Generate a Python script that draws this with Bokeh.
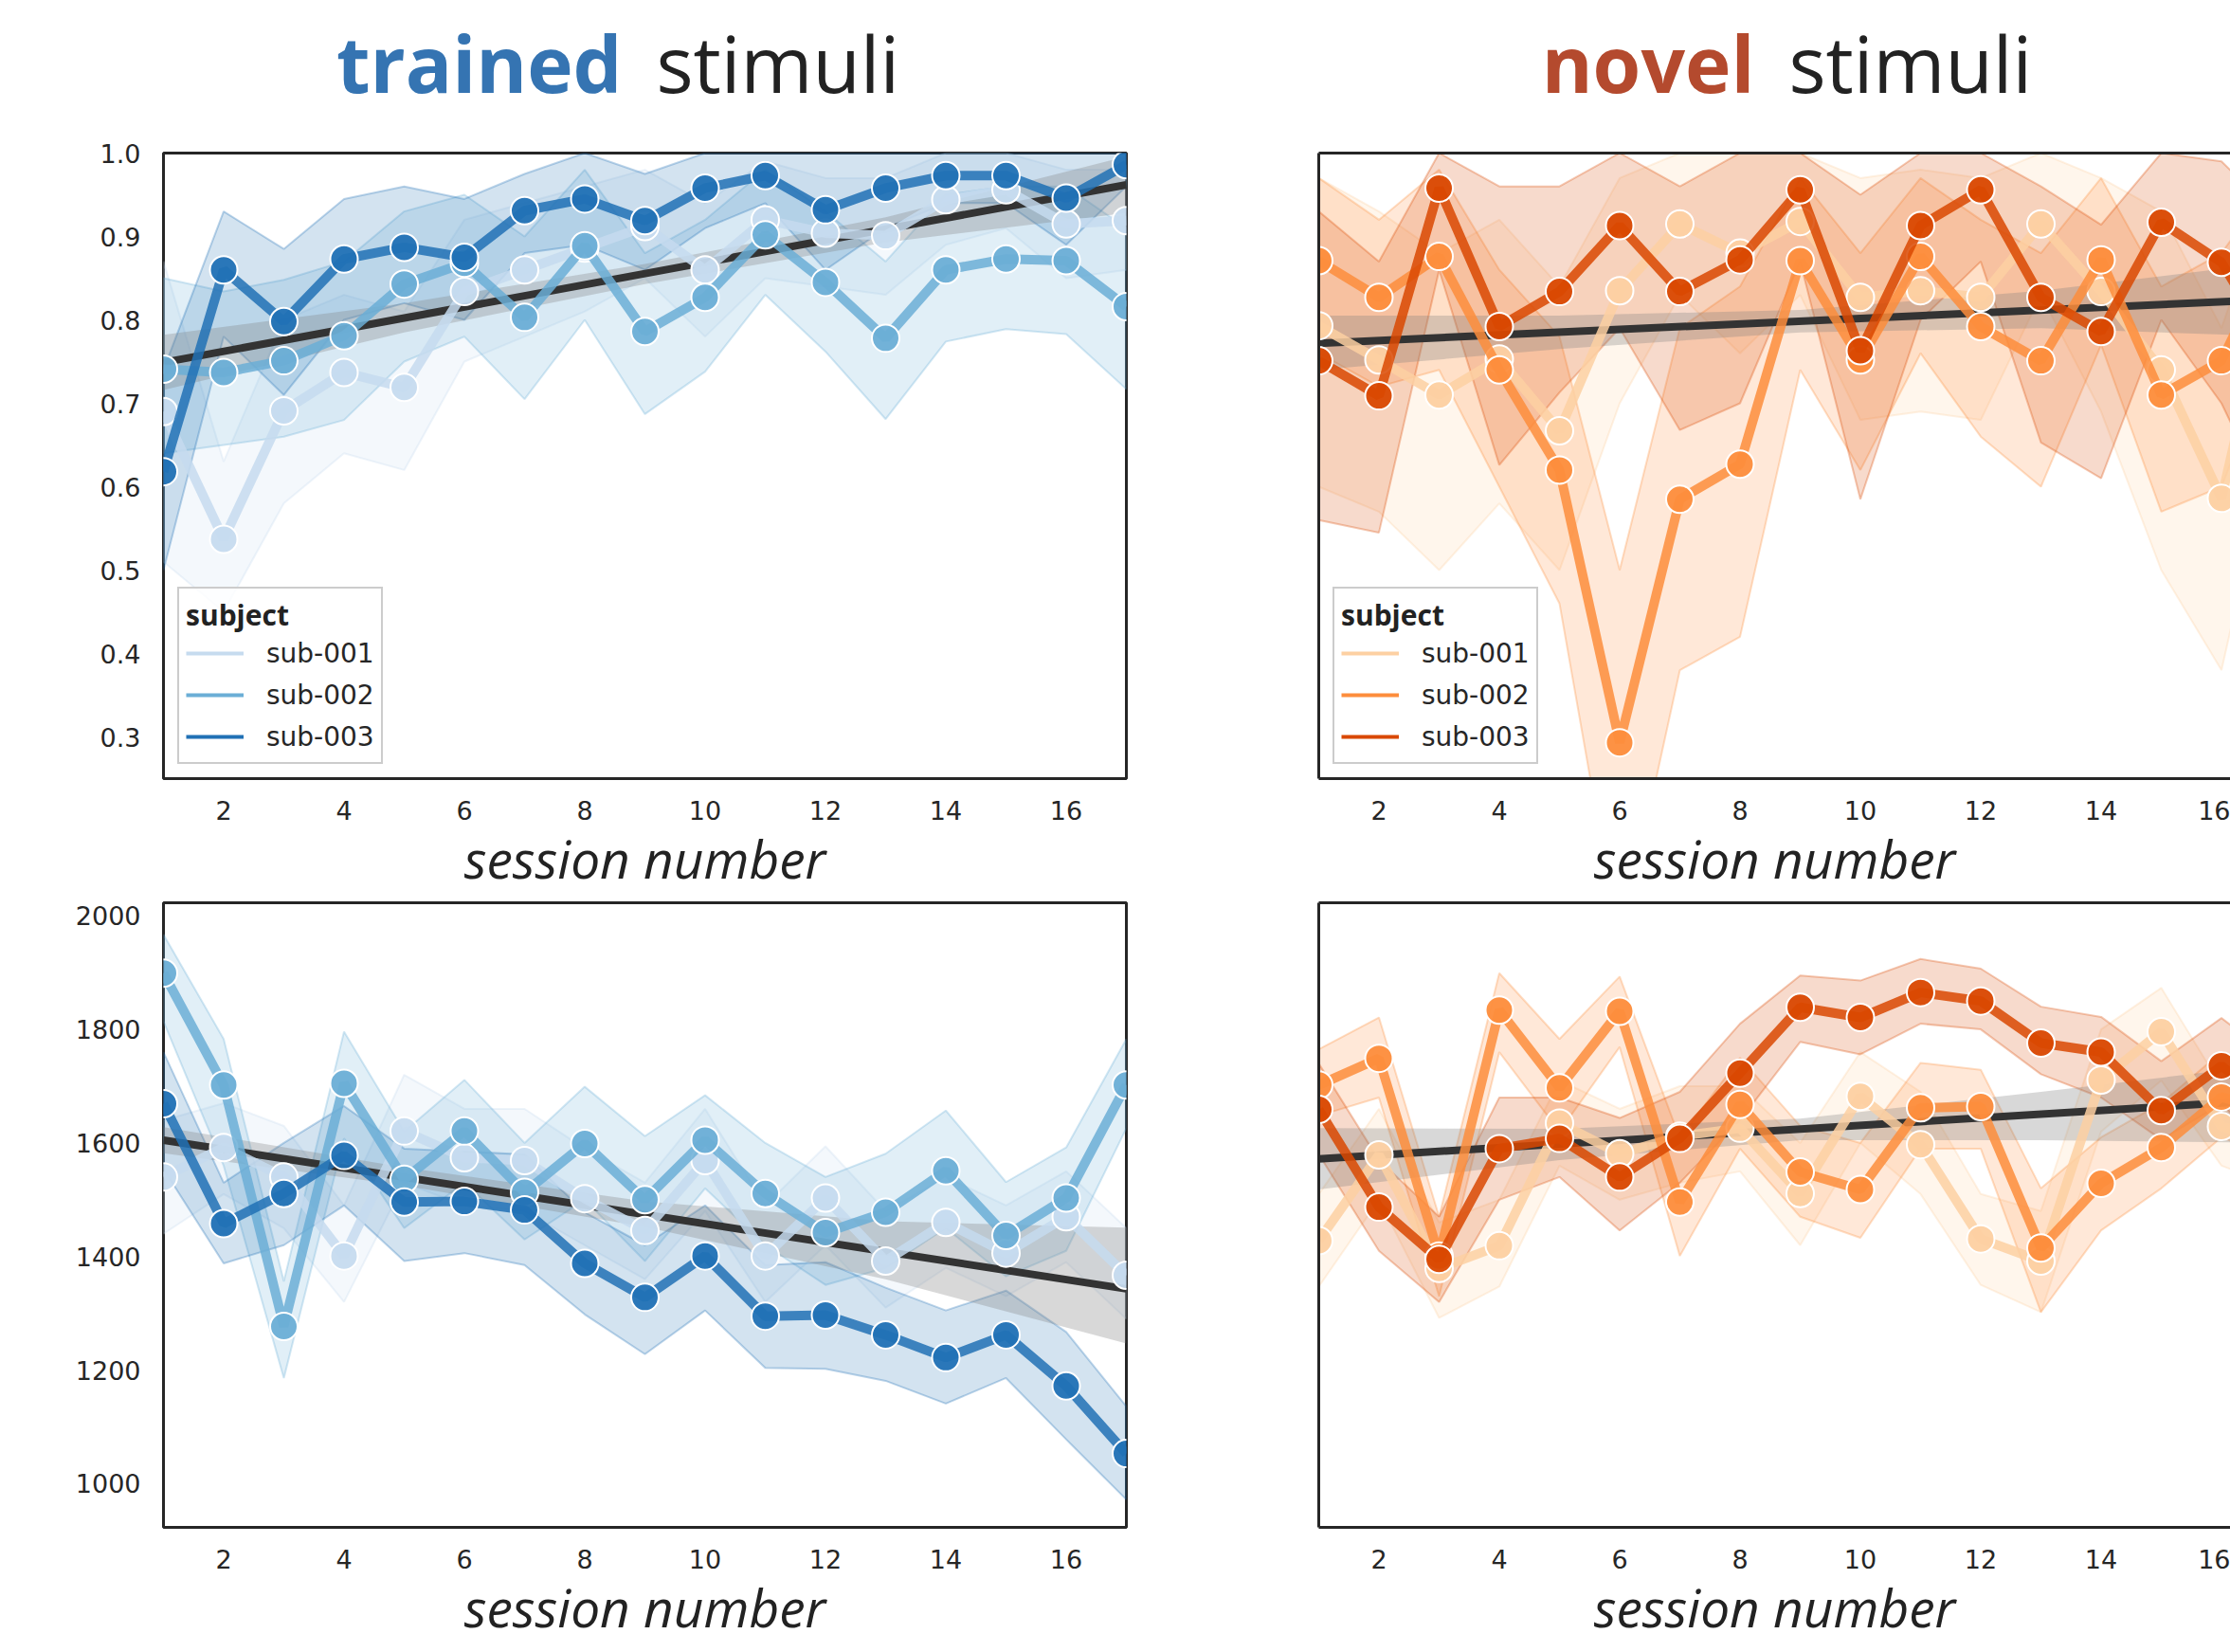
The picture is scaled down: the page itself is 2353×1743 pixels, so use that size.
from bokeh.plotting import figure
from bokeh.models import Range1d, FixedTicker, Legend, LegendItem, LinearAxis, PrintfTickFormatter
from bokeh.layouts import row, column
from bokeh.embed import file_html
from bokeh.resources import INLINE
from bokeh.core.properties import value

# ---------------- data ----------------
sessions = list(range(1, 18))
subjects = ["sub-001", "sub-002", "sub-003"]
blues = ["#c6dbef", "#6baed6", "#2171b5"]
oranges = ["#fdd0a2", "#fd8d3c", "#d94801"]

x_ticks = [2, 4, 6, 8, 10, 12, 14, 16]
acc_ticks = [0.3, 0.4, 0.5, 0.6, 0.7, 0.8, 0.9, 1.0]
rt_ticks = [1000, 1200, 1400, 1600, 1800, 2000]

# trained stimuli - accuracy
tr_acc_001 = [0.690, 0.537, 0.691, 0.737, 0.719, 0.834, 0.860, 0.886, 0.912, 0.860, 0.920, 0.904, 0.901, 0.944, 0.956, 0.915, 0.919]
tr_acc_001_lo = [0.51, 0.45, 0.58, 0.64, 0.62, 0.75, 0.78, 0.81, 0.85, 0.78, 0.85, 0.84, 0.83, 0.89, 0.91, 0.85, 0.86]
tr_acc_001_hi = [0.87, 0.63, 0.80, 0.83, 0.81, 0.92, 0.94, 0.96, 0.98, 0.94, 0.99, 0.97, 0.97, 1.0, 1.0, 0.98, 0.98]
tr_acc_002 = [0.741, 0.737, 0.751, 0.781, 0.843, 0.868, 0.803, 0.889, 0.786, 0.827, 0.902, 0.845, 0.778, 0.860, 0.873, 0.871, 0.816]
tr_acc_002_lo = [0.64, 0.65, 0.66, 0.68, 0.75, 0.78, 0.705, 0.80, 0.687, 0.738, 0.83, 0.762, 0.681, 0.774, 0.789, 0.783, 0.717]
tr_acc_002_hi = [0.85, 0.834, 0.848, 0.87, 0.93, 0.95, 0.90, 0.98, 0.88, 0.92, 0.98, 0.93, 0.87, 0.95, 0.96, 0.96, 0.91]
tr_acc_003 = [0.618, 0.860, 0.798, 0.873, 0.887, 0.875, 0.931, 0.945, 0.919, 0.958, 0.973, 0.932, 0.958, 0.973, 0.973, 0.946, 0.986]
tr_acc_003_lo = [0.50, 0.78, 0.71, 0.80, 0.82, 0.80, 0.88, 0.89, 0.86, 0.91, 0.94, 0.86, 0.91, 0.94, 0.94, 0.89, 0.96]
tr_acc_003_hi = [0.74, 0.93, 0.885, 0.945, 0.96, 0.945, 0.975, 1.0, 0.975, 1.0, 1.0, 1.0, 1.0, 1.0, 1.0, 1.0, 1.0]

# novel stimuli - accuracy
nv_acc_001 = [0.793, 0.752, 0.710, 0.753, 0.667, 0.835, 0.915, 0.880, 0.918, 0.827, 0.835, 0.827, 0.915, 0.834, 0.740, 0.586, 0.90]
nv_acc_001_lo = [0.60, 0.57, 0.50, 0.58, 0.50, 0.70, 0.83, 0.76, 0.83, 0.68, 0.69, 0.68, 0.83, 0.69, 0.50, 0.38, 0.70]
nv_acc_001_hi = [0.97, 0.93, 0.88, 0.92, 0.84, 0.97, 1.0, 1.0, 1.0, 0.97, 0.98, 0.97, 1.0, 0.97, 0.93, 0.79, 1.0]
nv_acc_002 = [0.871, 0.827, 0.876, 0.740, 0.620, 0.293, 0.585, 0.627, 0.871, 0.752, 0.876, 0.792, 0.751, 0.872, 0.710, 0.751, 0.90]
nv_acc_002_lo = [0.76, 0.72, 0.74, 0.60, 0.46, 0.05, 0.38, 0.42, 0.74, 0.62, 0.76, 0.66, 0.60, 0.77, 0.57, 0.60, 0.78]
nv_acc_002_hi = [0.97, 0.92, 0.98, 0.86, 0.78, 0.50, 0.79, 0.84, 0.97, 0.88, 0.97, 0.92, 0.88, 0.97, 0.84, 0.88, 0.98]
nv_acc_003 = [0.751, 0.709, 0.958, 0.792, 0.834, 0.913, 0.834, 0.872, 0.956, 0.763, 0.913, 0.956, 0.827, 0.786, 0.917, 0.869, 0.75]
nv_acc_003_lo = [0.56, 0.545, 0.86, 0.626, 0.713, 0.79, 0.668, 0.70, 0.87, 0.585, 0.80, 0.87, 0.653, 0.61, 0.80, 0.70, 0.55]
nv_acc_003_hi = [0.93, 0.87, 1.0, 0.96, 0.96, 1.0, 0.96, 1.0, 1.0, 0.95, 1.0, 1.0, 0.96, 0.914, 1.0, 0.99, 0.92]

# trained stimuli - response time
tr_rt_001 = [1540, 1592, 1540, 1401, 1621, 1574, 1569, 1502, 1446, 1569, 1401, 1503, 1392, 1460, 1406, 1470, 1367]
tr_rt_001_lo = [1440, 1510, 1450, 1320, 1530, 1490, 1480, 1420, 1360, 1480, 1320, 1420, 1310, 1380, 1330, 1390, 1290]
tr_rt_001_hi = [1640, 1670, 1630, 1490, 1720, 1660, 1660, 1590, 1530, 1660, 1490, 1594, 1480, 1540, 1490, 1550, 1450]
tr_rt_002 = [1899, 1702, 1277, 1705, 1536, 1621, 1513, 1599, 1500, 1605, 1511, 1442, 1478, 1551, 1437, 1503, 1702]
tr_rt_002_lo = [1814, 1560, 1186, 1608, 1450, 1530, 1430, 1500, 1392, 1520, 1420, 1350, 1380, 1450, 1365, 1410, 1626]
tr_rt_002_hi = [1967, 1783, 1356, 1796, 1620, 1711, 1600, 1699, 1612, 1684, 1600, 1540, 1581, 1657, 1531, 1592, 1783]
tr_rt_003 = [1669, 1458, 1511, 1578, 1496, 1497, 1482, 1388, 1328, 1401, 1295, 1297, 1262, 1222, 1262, 1172, 1053]
tr_rt_003_lo = [1554, 1388, 1420, 1490, 1392, 1406, 1385, 1298, 1228, 1305, 1204, 1202, 1181, 1141, 1186, 1078, 972]
tr_rt_003_hi = [1760, 1530, 1600, 1665, 1590, 1585, 1580, 1478, 1420, 1490, 1385, 1390, 1345, 1305, 1340, 1267, 1136]

# novel stimuli - response time
nv_rt_001 = [1428, 1579, 1379, 1419, 1635, 1581, 1612, 1626, 1511, 1682, 1597, 1431, 1392, 1711, 1796, 1629, 1600]
nv_rt_001_lo = [1347, 1500, 1292, 1347, 1560, 1500, 1530, 1550, 1420, 1600, 1510, 1350, 1302, 1620, 1710, 1560, 1520]
nv_rt_001_hi = [1510, 1660, 1460, 1500, 1710, 1660, 1700, 1700, 1600, 1760, 1690, 1510, 1480, 1800, 1873, 1700, 1680]
nv_rt_002 = [1702, 1749, 1401, 1834, 1697, 1832, 1496, 1668, 1549, 1518, 1662, 1664, 1415, 1529, 1592, 1681, 1650]
nv_rt_002_lo = [1648, 1680, 1330, 1760, 1620, 1769, 1401, 1590, 1470, 1433, 1590, 1590, 1302, 1446, 1520, 1610, 1570]
nv_rt_002_hi = [1765, 1821, 1470, 1899, 1783, 1893, 1608, 1750, 1630, 1600, 1741, 1729, 1520, 1610, 1670, 1760, 1730]
nv_rt_003 = [1659, 1487, 1395, 1590, 1608, 1540, 1608, 1723, 1839, 1821, 1865, 1850, 1776, 1760, 1657, 1736, 1650]
nv_rt_003_lo = [1580, 1410, 1320, 1500, 1540, 1446, 1530, 1640, 1778, 1756, 1810, 1800, 1721, 1680, 1606, 1669, 1560]
nv_rt_003_hi = [1740, 1570, 1470, 1680, 1680, 1644, 1690, 1810, 1895, 1886, 1924, 1907, 1840, 1822, 1744, 1820, 1740]

# regression fits (line end points and confidence band)
reg_x = [1, 17]
reg_band_x = [1, 5, 9, 13, 17]
reg_tr_acc = [0.749, 0.962]
reg_tr_acc_lo = [0.716, 0.785, 0.843, 0.893, 0.928]
reg_tr_acc_hi = [0.782, 0.820, 0.867, 0.923, 0.996]
reg_nv_acc = [0.772, 0.825]
reg_nv_acc_lo = [0.740, 0.765, 0.785, 0.790, 0.780]
reg_nv_acc_hi = [0.805, 0.805, 0.812, 0.835, 0.870]
reg_tr_rt = [1605, 1343]
reg_tr_rt_lo = [1582, 1525, 1452, 1360, 1247]
reg_tr_rt_hi = [1628, 1557, 1497, 1462, 1451]
reg_nv_rt = [1572, 1677]
reg_nv_rt_lo = [1518, 1570, 1605, 1605, 1600]
reg_nv_rt_hi = [1626, 1625, 1643, 1690, 1740]

# ---------------- layout constants ----------------
FRAME_W = 1016
PX_PER_X = FRAME_W / 16.0
LEFT_BL, LEFT_BR = 172, 20
RIGHT_BL = 183
RIGHT_FRAME_W = 962
TITLE_H = 136
TOP_FRAME_H = 660
BOT_FRAME_H = 659
DARK = "#262626"
TEXT = "#222222"

acc_range = Range1d(0.25, 1.0)
rt_range = Range1d(923, 2023)
left_x = Range1d(1, 17)
right_x = Range1d(1, 1 + RIGHT_FRAME_W / PX_PER_X)


def make_fig(side, pos, y_range, y_ticks):
    if side == "left":
        w = LEFT_BL + FRAME_W + LEFT_BR
        xr = left_x
        mbl, mbr = LEFT_BL, LEFT_BR
    else:
        w = RIGHT_BL + RIGHT_FRAME_W
        xr = right_x
        mbl, mbr = RIGHT_BL, 0
    if pos == "top":
        mbt, fh, mbb = 25, TOP_FRAME_H, 129
    else:
        mbt, fh, mbb = 2, BOT_FRAME_H, 131
    h = mbt + fh + mbb
    p = figure(width=w, height=h, x_range=xr, y_range=y_range,
               output_backend="svg", toolbar_location=None,
               min_border_left=mbl, min_border_right=mbr,
               min_border_top=mbt, min_border_bottom=mbb)
    p.grid.visible = False
    p.background_fill_color = "white"
    p.border_fill_color = "white"
    for ax in [p.xaxis, p.yaxis]:
        ax.major_tick_out = 0
        ax.major_tick_in = 0
        ax.minor_tick_out = 0
        ax.minor_tick_in = 0
        ax.major_label_text_font = "DejaVu Sans"
        ax.major_label_text_font_size = "27px"
        ax.major_label_text_color = DARK
    p.xaxis.ticker = FixedTicker(ticks=x_ticks)
    p.xaxis.major_label_standoff = 23
    p.xaxis.axis_label = "session number"
    p.xaxis.axis_label_text_font = "Open Sans"
    p.xaxis.axis_label_text_font_style = "italic"
    p.xaxis.axis_label_text_font_size = "55px"
    p.xaxis.axis_label_text_color = TEXT
    p.xaxis.axis_label_standoff = 0
    if side == "left":
        p.yaxis.ticker = FixedTicker(ticks=y_ticks)
        p.yaxis.major_label_standoff = 24
        if y_ticks == acc_ticks:
            p.yaxis.formatter = PrintfTickFormatter(format="%.1f")
        p.outline_line_color = DARK
        p.outline_line_width = 3
        p.outline_line_alpha = 1
        p.xaxis.axis_line_color = None
        p.yaxis.axis_line_color = None
    else:
        p.outline_line_color = None
        p.yaxis.ticker = FixedTicker(ticks=[])
        p.yaxis.major_label_standoff = 0
        for ax in [p.xaxis, p.yaxis]:
            ax.axis_line_color = DARK
            ax.axis_line_width = 3
        top_ax = LinearAxis(ticker=FixedTicker(ticks=[]), major_tick_out=0, major_tick_in=0,
                            minor_tick_out=0, minor_tick_in=0, axis_line_color=DARK,
                            axis_line_width=3, major_label_standoff=0)
        p.add_layout(top_ax, "above")
    return p


def make_title(side, word, color, x_a, x_b):
    if side == "left":
        w = LEFT_BL + FRAME_W + LEFT_BR
        xr, mbl, mbr = left_x, LEFT_BL, LEFT_BR
    else:
        w = RIGHT_BL + RIGHT_FRAME_W
        xr, mbl, mbr = right_x, RIGHT_BL, 0
    t = figure(width=w, height=TITLE_H, x_range=xr, y_range=Range1d(0, TITLE_H),
               output_backend="svg", toolbar_location=None,
               min_border_left=mbl, min_border_right=mbr, min_border_top=0, min_border_bottom=0)
    t.axis.visible = False
    t.grid.visible = False
    t.outline_line_color = None
    t.background_fill_color = "white"
    t.border_fill_color = "white"
    base_y = TITLE_H - 99 + 34
    t.text(x=[x_a], y=[base_y], text=[word], text_font=value("Open Sans"),
           text_font_style="bold", text_font_size="82px", text_color=color,
           text_align="right", text_baseline="alphabetic")
    t.text(x=[x_b], y=[base_y], text=["stimuli"], text_font=value("Open Sans"),
           text_font_style="normal", text_font_size="82px", text_color=TEXT,
           text_align="left", text_baseline="alphabetic")
    return t


def band(p, xs, lo, hi, color, fill_alpha=0.2, line_alpha=0.3):
    bx = list(xs) + list(xs)[::-1]
    by = list(hi) + list(lo)[::-1]
    p.patch(bx, by, fill_color=color, fill_alpha=fill_alpha,
            line_color=color, line_alpha=line_alpha, line_width=2)


def draw_panel(p, series, colors, reg, reg_lo, reg_hi, legend):
    for (m, lo, hi), c in zip(series, colors):
        band(p, sessions, lo, hi, c)
    band(p, reg_band_x, reg_lo, reg_hi, "#7f7f7f", fill_alpha=0.3, line_alpha=0.0)
    p.line(reg_x, reg, line_color="#333333", line_width=8)
    for (m, lo, hi), c in zip(series, colors):
        p.line(sessions, m, line_color=c, line_width=10, line_alpha=0.85)
        p.scatter(sessions, m, size=29, fill_color=c, fill_alpha=0.95,
                  line_color="white", line_width=2)
    if legend:
        items = []
        yr = p.y_range
        ymid = (yr.start + yr.end) / 2
        for name, c in zip(subjects, colors):
            # legend proxy line kept outside the visible x range
            r = p.line(x=[-10, -9], y=[ymid, ymid], line_color=c, line_width=4)
            items.append(LegendItem(label=name, renderers=[r]))
        lg = Legend(items=items, location="bottom_left", title="subject",
                    title_text_font="Open Sans", title_text_font_style="bold",
                    title_text_font_size="30px", title_text_color=TEXT, title_standoff=0,
                    label_text_font="DejaVu Sans", label_text_font_size="28px",
                    label_text_color=DARK, glyph_width=61, glyph_height=40,
                    label_height=40, spacing=4, label_standoff=24, padding=7, margin=15,
                    border_line_color="#cccccc", border_line_width=2, border_line_alpha=1,
                    background_fill_color="white", background_fill_alpha=0.8)
        p.add_layout(lg)


def px_left(px):
    return 1 + (px - LEFT_BL) / PX_PER_X


def px_right(px):
    return 1 + (px - (LEFT_BL + FRAME_W + LEFT_BR + RIGHT_BL)) / PX_PER_X


t1 = make_title("left", "trained", "#3574b2", px_left(656), px_left(692))
t2 = make_title("right", "novel", "#b44a2e", px_right(1851), px_right(1887))

# top-left: trained accuracy
p1 = make_fig("left", "top", acc_range, acc_ticks)
draw_panel(p1, [(tr_acc_001, tr_acc_001_lo, tr_acc_001_hi),
                (tr_acc_002, tr_acc_002_lo, tr_acc_002_hi),
                (tr_acc_003, tr_acc_003_lo, tr_acc_003_hi)], blues,
           reg_tr_acc, reg_tr_acc_lo, reg_tr_acc_hi, True)

# top-right: novel accuracy
p2 = make_fig("right", "top", acc_range, acc_ticks)
draw_panel(p2, [(nv_acc_001, nv_acc_001_lo, nv_acc_001_hi),
                (nv_acc_002, nv_acc_002_lo, nv_acc_002_hi),
                (nv_acc_003, nv_acc_003_lo, nv_acc_003_hi)], oranges,
           reg_nv_acc, reg_nv_acc_lo, reg_nv_acc_hi, True)

# bottom-left: trained RT
p3 = make_fig("left", "bottom", rt_range, rt_ticks)
draw_panel(p3, [(tr_rt_001, tr_rt_001_lo, tr_rt_001_hi),
                (tr_rt_002, tr_rt_002_lo, tr_rt_002_hi),
                (tr_rt_003, tr_rt_003_lo, tr_rt_003_hi)], blues,
           reg_tr_rt, reg_tr_rt_lo, reg_tr_rt_hi, False)

# bottom-right: novel RT
p4 = make_fig("right", "bottom", rt_range, rt_ticks)
draw_panel(p4, [(nv_rt_001, nv_rt_001_lo, nv_rt_001_hi),
                (nv_rt_002, nv_rt_002_lo, nv_rt_002_hi),
                (nv_rt_003, nv_rt_003_lo, nv_rt_003_hi)], oranges,
           reg_nv_rt, reg_nv_rt_lo, reg_nv_rt_hi, False)

layout = column(row(t1, t2), row(p1, p2), row(p3, p4))
open("out.html", "w").write(file_html(layout, INLINE))
